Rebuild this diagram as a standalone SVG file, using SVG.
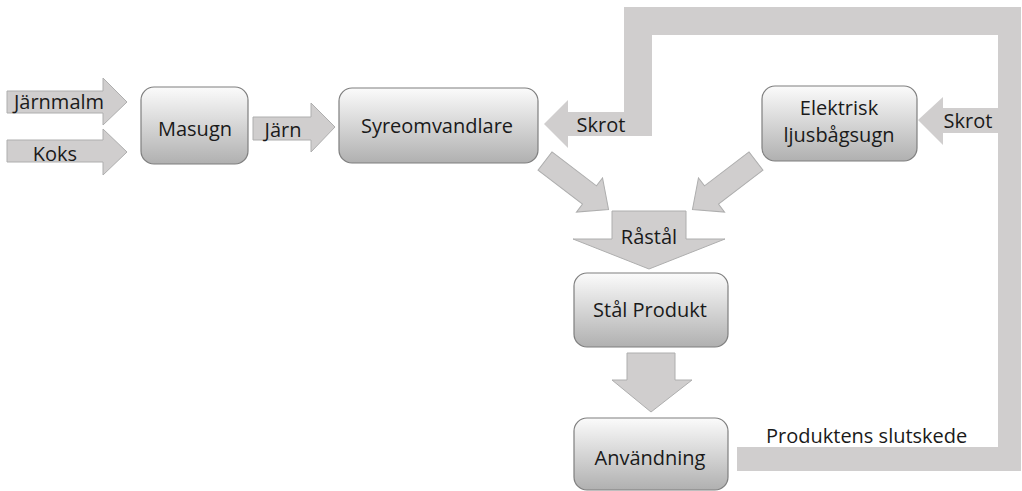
<svg xmlns="http://www.w3.org/2000/svg" width="1022" height="491" viewBox="0 0 1022 491">
<defs>
<linearGradient id="boxg" x1="0" y1="0" x2="0" y2="1">
<stop offset="0" stop-color="#fbfbfb"/>
<stop offset="1" stop-color="#b0b0b0"/>
</linearGradient>
<style>
.box{fill:url(#boxg);stroke:#7f7f7f;stroke-width:1.2}
.arr{fill:#d0cece;stroke:#aeaeae;stroke-width:1}
.bent{fill:#d0cece;stroke:none}
text{font-family:"Open Sans","Liberation Sans",sans-serif;font-size:20px;fill:#1a1a1a}
.c{text-anchor:middle}
</style>
</defs>
<rect width="1022" height="491" fill="#ffffff"/>
<g id="connectors">
<path class="bent" d="M544,124 L568,100 L568,112 L624,112 L624,7 L1021,7 L1021,471 L737,471 L737,447 L998,447 L998,35 L652,35 L652,136 L568,136 L568,148 Z"/>
<path class="bent" d="M918,120 L943,97 L943,108 L998,108 L998,133 L943,133 L943,145 Z"/>
<polygon class="arr" points="7,91 103,91 103,78 127,102 103,125 103,113 7,113"/>
<polygon class="arr" points="7,140 103,140 103,129 127,152 103,175 103,162 7,162"/>
<polygon class="arr" points="253,117 311,117 311,103 335,127 311,152 311,140 253,140"/>
<polygon class="arr" transform="translate(545,161) rotate(37.4)" points="0,-11.5 56,-11.5 56,-21.5 80,0 56,21.5 56,11.5 0,11.5"/>
<polygon class="arr" transform="translate(756,161) rotate(142.6)" points="0,-11.5 56,-11.5 56,-21.5 80,0 56,21.5 56,11.5 0,11.5"/>
<polygon class="arr" points="612,211 686,211 686,239 725,239 649,269 573,239 612,239"/>
<polygon class="arr" points="627,353 675,353 675,380 692,380 651,412 612,380 627,380"/>
<text x="59" y="109" class="c">Järnmalm</text>
<text x="55" y="161" class="c">Koks</text>
<text x="283" y="137" class="c">Järn</text>
<text x="601" y="132" class="c">Skrot</text>
<text x="968" y="128" class="c">Skrot</text>
<text x="649" y="244" class="c">Råstål</text>
<text x="766" y="443">Produktens slutskede</text>
</g>
<g id="masugn">
<rect class="box" x="141" y="87" width="107" height="77" rx="13"/>
<text x="195" y="136" class="c">Masugn</text>
</g>
<g id="syreomvandlare">
<rect class="box" x="339" y="88" width="199" height="75" rx="13"/>
<text x="437" y="133" class="c">Syreomvandlare</text>
</g>
<g id="elektrisk">
<rect class="box" x="762" y="86" width="155" height="75" rx="13"/>
<text x="839" y="115" class="c">Elektrisk</text>
<text x="839" y="142" class="c">ljusbågsugn</text>
</g>
<g id="stalprodukt">
<rect class="box" x="574" y="273" width="154" height="74" rx="13"/>
<text x="650" y="317" class="c">Stål Produkt</text>
</g>
<g id="anvandning">
<rect class="box" x="574" y="418" width="154" height="72" rx="13"/>
<text x="650" y="465" class="c">Användning</text>
</g>
</svg>
